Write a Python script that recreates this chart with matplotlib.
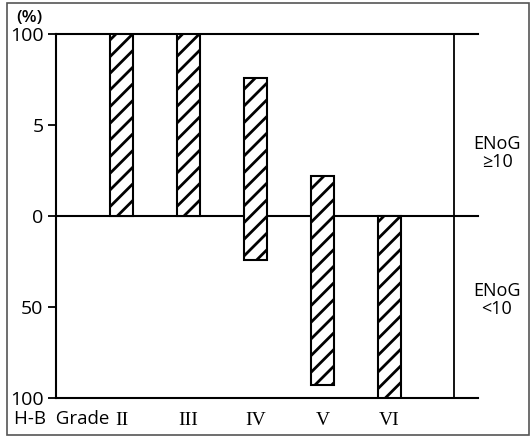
"""H-B grade vs ENoG ratio — floating hatched bars"""

import matplotlib

matplotlib.use("Agg")
import matplotlib.pyplot as plt
from matplotlib.patches import Rectangle

# 数据
grades = ["II", "III", "IV", "V", "VI"]
upper_pct = [100, 100, 76, 22, 0]    # ENoG >= 10 (%)
lower_pct = [0, 0, 24, 93, 100]      # ENoG < 10 (%)
ytick_vals = [100, 50, 0, -50, -100]
ytick_labels = ["100", "5", "0", "50", "100"]

W, H = 532, 437
plt.rcParams["font.family"] = ["Open Sans", "DejaVu Sans"]
plt.rcParams["hatch.linewidth"] = 2.0

fig = plt.figure(figsize=(W / 100, H / 100), dpi=100)

# 坐标轴区域 (像素 -> 比例)
x0, x1, y_top, y_bot = 56, 478, 34, 398
ax = fig.add_axes([x0 / W, 1 - y_bot / H, (x1 - x0) / W, (y_bot - y_top) / H])

pos = list(range(len(grades)))
bottoms = [-v for v in lower_pct]
heights = [u + l for u, l in zip(upper_pct, lower_pct)]
ax.bar(pos, heights, bottom=bottoms, width=0.33, color="white",
       edgecolor="black", linewidth=1.5, hatch="//", zorder=3)

ax.set_xlim(-0.978, 5.32)
ax.set_ylim(-100, 100)

for yv in (100, 0, -100):
    ax.axhline(yv, color="black", linewidth=1.5, clip_on=False, zorder=2)
ax.axvline(4.96, color="black", linewidth=1.3, clip_on=False, zorder=2)

for side in ("top", "right", "bottom"):
    ax.spines[side].set_visible(False)
ax.spines["left"].set_linewidth(1.5)

ax.set_yticks(ytick_vals, ytick_labels)
ax.tick_params(axis="y", length=6, width=1.3, pad=3, labelsize=14)
ax.set_xticks(pos, grades)
ax.tick_params(axis="x", length=0, pad=10, labelsize=14)
for lab in ax.get_xticklabels():
    lab.set_family(["Liberation Serif", "DejaVu Serif"])

fig.text(29 / W, 1 - 18 / H, "(%)", ha="center", va="center", fontsize=12.5,
         weight="semibold")
fig.text(14 / W, 1 - 419 / H, "H-B  Grade", ha="left", va="center", fontsize=13.5)
fig.text(497 / W, 1 - 153 / H, "ENoG\n≥10", ha="center", va="center",
         fontsize=13, linespacing=1.0)
fig.text(497 / W, 1 - 300 / H, "ENoG\n<10", ha="center", va="center",
         fontsize=13, linespacing=1.0)

# 外框
fig.patches.append(Rectangle((7 / W, 2 / H), 522 / W, 432 / H,
                             transform=fig.transFigure, fill=False,
                             edgecolor="#555555", linewidth=1.2))

fig.savefig("out.png", dpi=100)
